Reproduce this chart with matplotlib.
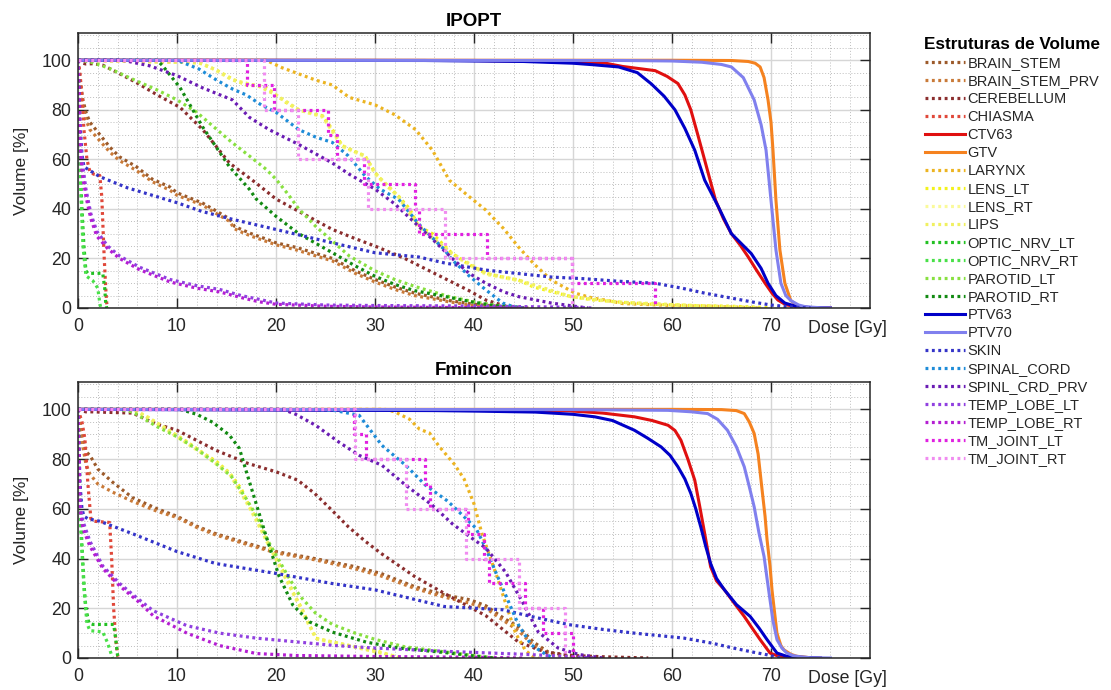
#!/usr/bin/env python3
"""DVH comparison: IPOPT vs Fmincon, one curve per structure."""
import matplotlib
matplotlib.use("Agg")
import matplotlib.pyplot as plt
from matplotlib.lines import Line2D
from matplotlib.ticker import MultipleLocator

plt.rcParams["font.family"] = ["Liberation Sans", "DejaVu Sans"]

NAMES = ["BRAIN_STEM", "BRAIN_STEM_PRV", "CEREBELLUM", "CHIASMA", "CTV63", "GTV",
         "LARYNX", "LENS_LT", "LENS_RT", "LIPS", "OPTIC_NRV_LT", "OPTIC_NRV_RT",
         "PAROTID_LT", "PAROTID_RT", "PTV63", "PTV70", "SKIN", "SPINAL_CORD",
         "SPINL_CRD_PRV", "TEMP_LOBE_LT", "TEMP_LOBE_RT", "TM_JOINT_LT", "TM_JOINT_RT"]
COLORS = ["#9c5a2a", "#c97a38", "#8b2e2e", "#e0483a", "#e01010", "#f5821f",
          "#ecb421", "#f2f21c", "#fafa9a", "#f0f060", "#22c022", "#48e048",
          "#88e040", "#128a12", "#0000c8", "#8080ee", "#3434c8", "#1e8cd8",
          "#6a1cb4", "#9040e0", "#b41ed2", "#e020e0", "#f08cf0"]
SOLID = {"CTV63", "GTV", "PTV63", "PTV70"}
STEPS = {"TM_JOINT_LT", "TM_JOINT_RT"}

# ---------------- IPOPT (dose Gy, volume %) ----------------
ip_brain_stem_d = [0, 0.2, 0.5, 0.8, 1.2, 2.2, 3.2, 4.2, 5.9, 7.5, 9.3, 10, 12.6, 13.6, 15.3, 15.8, 16.6, 17.5, 19.3, 20, 22, 25.7, 28, 30, 32, 34, 37.5, 40, 43, 45.5]
ip_brain_stem_v = [100, 92, 84, 79, 75, 70, 65, 61, 57, 52, 48.8, 46.5, 42.3, 40, 36, 33, 31.5, 30, 27.4, 26.3, 24.5, 20, 15, 11.5, 8.5, 6, 3, 1.5, 0.5, 0]
ip_brain_stem_prv_d = [0, 0.2, 0.5, 0.8, 1.2, 2.2, 3.2, 4.2, 5.9, 7.5, 9.3, 10, 12.6, 13.6, 15.3, 15.8, 16.6, 17.5, 19.3, 20, 22, 25.7, 28, 30, 32, 34, 37.5, 40, 43, 45.5]
ip_brain_stem_prv_v = [100, 90, 81, 76, 72, 67.5, 63, 59.5, 55.5, 51, 47.5, 45.5, 41.5, 39, 35, 32, 30.5, 29, 26.5, 25.5, 23.5, 19, 14, 10.5, 7.5, 5, 2.5, 1, 0.3, 0]
ip_cerebellum_d = [0, 0.3, 0.8, 1.5, 2.5, 4, 5.9, 8, 10.3, 12.6, 15.3, 18, 20, 22.3, 25.7, 28, 30, 33, 35, 37.5, 39.5, 41.2, 43, 45]
ip_cerebellum_v = [100, 99, 98.5, 98.6, 98, 95, 91, 86, 81, 72, 58.5, 50.4, 44, 39, 31.7, 28, 25, 20, 16, 11, 7, 3.2, 1, 0]
ip_chiasma_d = [0, 0.2, 0.4, 0.6, 0.9, 1.2, 1.6, 2.2, 2.4, 2.5, 2.65, 2.8, 2.9, 3.0]
ip_chiasma_v = [100, 95, 85, 72, 60, 55, 54, 53.5, 45, 35, 20, 8, 2, 0]
ip_ctv63_d = [0, 40, 45, 50, 53.3, 55, 58.3, 59.5, 60.6, 61.3, 61.9, 62.6, 63.3, 64.4, 65.2, 66, 66.9, 67.7, 68.5, 69.4, 70.1, 70.7, 71.5, 72.7, 74, 76]
ip_ctv63_v = [100, 99.9, 99.7, 99.3, 98.8, 97.5, 95.8, 93.5, 90.6, 86, 80, 70, 59.7, 43.5, 36, 30, 25.3, 20.6, 15.5, 10, 6, 3.2, 1.3, 0.5, 0.1, 0]
ip_gtv_d = [0, 60, 66, 67.7, 68.4, 68.9, 69.3, 69.7, 70, 70.2, 70.5, 70.9, 71.4, 72, 72.6, 73, 74, 75]
ip_gtv_v = [100, 100, 99.9, 99.5, 98.8, 97.3, 93, 84, 75, 63.7, 43.5, 23.4, 10, 3, 1.2, 0.5, 0.1, 0]
ip_larynx_d = [0, 19, 20.6, 22.3, 24, 25.7, 27.4, 30, 32, 34.1, 35.8, 37.5, 39.5, 41.2, 43, 44.5, 46, 47.8, 50.2, 52, 53.3, 55, 60, 65, 69]
ip_larynx_v = [100, 100, 97, 94.5, 92, 90, 85, 82, 78, 72, 63.7, 51.6, 45, 39.5, 32, 24.6, 18, 11.3, 6, 4, 3.2, 1.8, 1, 0.6, 0]
ip_lens_lt_d = [0, 12.2, 14, 15.6, 17, 18.3, 19, 20, 21, 22.3, 23.5, 24.7, 25.7, 26.7, 28, 29, 30, 31, 32.4, 33.5, 34.4, 35.8, 37.8, 39.5, 41.2, 43, 44.5, 46, 49.8, 52, 54.6, 58, 62, 66, 69, 70]
ip_lens_lt_v = [100, 99, 96, 92.4, 90, 89.7, 89, 86, 83, 80, 78.5, 77.6, 72, 65.5, 63, 61.4, 54.7, 50, 45, 40, 33, 30, 22, 17.5, 14, 12.3, 11.3, 8.5, 4.6, 3.3, 2.4, 1.5, 1, 0.7, 0.3, 0]
ip_lens_rt_d = [0, 12.5, 15.6, 18.3, 20, 22.3, 24.7, 26.7, 29, 30, 32.4, 34.4, 37.8, 41.2, 44.5, 49.8, 54.6, 62, 69]
ip_lens_rt_v = [100, 99, 92, 89.5, 86, 80, 77, 65, 61, 54, 44.5, 32.5, 21.5, 13.5, 11, 4.5, 2.3, 1, 0]
ip_lips_d = [0, 12.3, 14, 15.6, 18.3, 20, 22.3, 24.7, 26.7, 29, 30, 32.4, 34.4, 37.8, 41.2, 44.5, 49.8, 54.6, 62, 69]
ip_lips_v = [100, 99, 96, 92, 89.5, 86, 80, 77.5, 65.5, 61.4, 54.5, 45, 33, 22, 14, 11.3, 4.6, 2.4, 1, 0]
ip_optic_nrv_lt_d = [0, 0.1, 0.2, 0.4, 0.6, 0.8, 1.0, 2.5, 2.7, 2.8, 2.9]
ip_optic_nrv_lt_v = [100, 80, 60, 40, 25, 15, 14, 14, 8, 2, 0]
ip_optic_nrv_rt_d = [0, 0.1, 0.3, 0.5, 0.8, 1.5, 2.0, 2.2, 2.3]
ip_optic_nrv_rt_v = [100, 70, 45, 25, 13, 11, 8, 2, 0]
ip_parotid_lt_d = [0, 1, 1.5, 3, 5.5, 8, 10, 12, 13.6, 15.5, 17.3, 19, 20, 21.2, 22.3, 24, 25.7, 27.4, 30, 32, 34.1, 37.5, 40, 42, 45]
ip_parotid_lt_v = [100, 99.5, 99, 97, 92.4, 88, 84, 79, 73.5, 67, 61.4, 56, 52, 46, 40, 33, 27, 21, 15, 11.5, 8.6, 4.6, 2.5, 1.2, 0]
ip_parotid_rt_d = [0, 8, 8.5, 10.3, 12.6, 15.3, 17.3, 18, 20, 22.3, 25.7, 28, 30, 32, 34, 37, 40, 42, 45]
ip_parotid_rt_v = [100, 100, 98, 89, 73, 57, 48, 44, 37, 30, 22.3, 17, 12.8, 9.5, 7, 4.7, 2.3, 1, 0]
ip_ptv63_d = [0, 35, 45, 50, 52, 54.6, 56.5, 57.9, 59.2, 60.3, 61.3, 62.3, 63.3, 64.7, 66, 67, 68, 69, 69.7, 70.5, 71.4, 72.5, 74, 76]
ip_ptv63_v = [100, 99.9, 99.5, 98.8, 98.2, 97.3, 95, 90.5, 85.5, 80, 72.5, 63.7, 51.6, 40.7, 30, 26, 22, 16, 10, 5, 2, 0.7, 0.2, 0]
ip_ptv70_d = [0, 55, 60, 63, 65, 66, 67.2, 68.3, 69, 69.5, 70, 70.5, 71, 71.5, 72, 72.8, 73.5, 75, 76]
ip_ptv70_v = [100, 99.9, 99.7, 99.2, 98.3, 97.3, 93, 84, 74, 63.7, 43.5, 23.4, 10, 5, 3, 1.2, 0.5, 0.1, 0]
ip_skin_d = [0, 0.1, 0.2, 0.4, 0.6, 1, 2.2, 5, 10, 12.5, 15.6, 20, 25.7, 30, 34.4, 37, 41.2, 47.8, 51.2, 54.6, 58.3, 61, 63.3, 66, 68, 70, 71.7, 73, 74]
ip_skin_v = [100, 90, 75, 62, 57, 56, 53, 48.5, 42.5, 39, 35.8, 31.7, 26.3, 22.3, 20.6, 18.2, 15.3, 12.5, 11.8, 10.8, 10, 8, 6, 4, 2.5, 1.2, 0.5, 0.2, 0]
ip_spinal_cord_d = [0, 10, 12.2, 14, 15.6, 17, 18.5, 20, 22.3, 24, 25.7, 27.3, 29, 30.5, 32.4, 34.4, 35, 37, 37.8, 39.5, 41.2, 42.9, 44, 45]
ip_spinal_cord_v = [100, 100, 96.5, 92, 88.4, 86, 82, 79, 72, 69, 66.8, 61.4, 53.3, 48, 43.8, 34, 31.5, 23.6, 19.4, 13, 7.3, 2, 0.5, 0]
ip_spinl_crd_prv_d = [0, 4.5, 7.2, 10, 12.5, 15.6, 17.3, 19.3, 22.3, 25.7, 27.4, 30, 32, 34.4, 36, 37.8, 39.5, 41.2, 43, 44.5, 47.8, 50, 51.5]
ip_spinl_crd_prv_v = [100, 100, 97.8, 93.8, 89, 84, 77, 72, 66, 58.5, 54, 48, 42, 33, 27, 20, 14, 10, 6.5, 4.6, 2, 0.8, 0]
ip_temp_lobe_lt_d = [0, 0.1, 0.2, 0.4, 0.8, 1.3, 1.9, 3, 4.2, 6.2, 9.3, 12, 14.3, 16.5, 18.3, 20, 25, 30, 40, 50, 52]
ip_temp_lobe_lt_v = [100, 85, 70, 60, 48, 38, 31, 25, 21, 16.5, 11.5, 9, 7.5, 5, 3.5, 2, 1.2, 1, 0.8, 0.3, 0]
ip_temp_lobe_rt_d = [0, 0.1, 0.2, 0.4, 0.8, 1.3, 1.9, 3, 4.2, 6.2, 9.3, 12, 14.3, 16.5, 18.3, 20, 25, 30, 45]
ip_temp_lobe_rt_v = [100, 80, 65, 55, 45, 36, 29, 24, 20, 15.5, 10.5, 8, 6.5, 4.2, 2.5, 1.5, 0.7, 0.4, 0]
ip_tm_joint_lt_d = [0, 17.1, 19.8, 25.3, 26.2, 28.9, 34.0, 34.4, 41.3, 49.9, 58.3]
ip_tm_joint_lt_v = [100, 90, 80, 70, 60, 50, 40, 30, 20, 10, 0]
ip_tm_joint_rt_d = [0, 18.8, 22.2, 29.3, 37.1, 49.9]
ip_tm_joint_rt_v = [100, 80, 60, 40, 20, 0]

# ---------------- Fmincon (dose Gy, volume %) ----------------
fm_brain_stem_d = [0, 0.2, 0.4, 0.8, 1.2, 2, 3.5, 5.5, 8, 10, 12, 13.9, 17.2, 20, 23.9, 27.9, 30.6, 34, 37, 39.6, 41.2, 43, 44.5, 46, 47.5, 50, 52]
fm_brain_stem_v = [100, 95, 90, 83, 81.5, 76, 70.7, 64.5, 60, 57, 53, 50, 46, 42.8, 40, 36.8, 34, 28.7, 25.4, 23.4, 21, 16, 12.5, 6.4, 2.4, 0.3, 0]
fm_brain_stem_prv_d = [0, 0.2, 0.4, 0.8, 1.2, 2, 3.5, 5.5, 8, 10, 12, 13.9, 17.2, 20, 23.9, 27.9, 30.6, 34, 37, 39.6, 41.2, 43, 44.5, 46, 47.5, 50, 52]
fm_brain_stem_prv_v = [100, 93, 87, 78, 74, 70, 66.7, 63, 59, 56.5, 52.5, 49.5, 45.5, 42.3, 39.5, 36, 33, 28, 24.5, 22, 20, 15, 11, 5, 1.8, 0.2, 0]
fm_cerebellum_d = [0, 0.3, 0.8, 1.5, 3, 5.5, 8, 10, 12, 13.9, 17.2, 20, 22.2, 23.9, 25.5, 27.3, 29, 30.6, 34, 37, 41.2, 44.5, 47.2, 50, 53, 57.6]
fm_cerebellum_v = [100, 99.5, 99, 99, 98.8, 98.5, 94, 91.6, 87.5, 83.6, 78.2, 74.9, 71.5, 66.2, 60, 52.8, 47, 42.1, 32.8, 26, 17, 6.4, 2.4, 1, 0.5, 0]
fm_chiasma_d = [0, 0.4, 0.7, 1.0, 1.3, 1.6, 3.2, 3.4, 3.6, 3.8, 4.0, 4.1]
fm_chiasma_v = [100, 95, 88, 70, 56, 55, 54.5, 40, 20, 8, 1, 0]
fm_ctv63_d = [0, 36, 40, 45, 49.6, 53, 56.2, 58, 59.6, 60.3, 60.9, 61.6, 62.3, 62.8, 63.3, 63.9, 64.5, 65.3, 66.3, 67.3, 68.1, 68.9, 69.9, 70.7, 71.6, 73, 74]
fm_ctv63_v = [100, 99.8, 99.7, 99.6, 99.4, 98.5, 97, 95.5, 93.6, 91.5, 87.6, 80, 71.5, 61, 50.1, 36.7, 31, 27.4, 22, 16.7, 12, 7.4, 2, 0.8, 0.4, 0.1, 0]
fm_gtv_d = [0, 60, 65, 66.5, 67.3, 67.8, 68.3, 68.7, 69.1, 69.4, 69.6, 69.9, 70.1, 70.4, 70.6, 71, 71.3, 72, 72.6, 74, 75]
fm_gtv_v = [100, 100, 99.9, 99.5, 98.3, 95, 90.3, 82, 67.6, 57, 47.6, 37, 27.4, 17, 10, 5, 3.3, 1.5, 0.7, 0.1, 0]
fm_larynx_d = [0, 31, 32, 33.5, 34.5, 35.5, 36.5, 38, 39, 40, 40.8, 41.5, 42.3, 43.2, 44.2, 45.2, 46, 46.5]
fm_larynx_v = [100, 100, 99, 96, 92, 90.5, 85, 78, 72, 62, 50, 42, 33, 22, 10, 3, 0.5, 0]
fm_lens_lt_d = [0, 5.5, 7, 9, 11, 12.6, 14, 15.3, 16.5, 17.3, 18, 18.6, 19.3, 20, 21, 21.7, 22.6, 23.4, 24, 25, 27.4, 30, 31.7, 32.5]
fm_lens_lt_v = [100, 100, 97, 92, 87, 82.5, 79, 74.5, 68, 61, 56, 51, 45, 40, 33, 26.5, 20, 13, 8, 7, 5, 3, 1, 0]
fm_lens_rt_d = [0, 5.8, 9, 12.6, 15.3, 17.3, 18.6, 20, 21.7, 23.4, 24.2, 27.4, 31.7, 32.5]
fm_lens_rt_v = [100, 100, 91.5, 82, 74, 60.5, 50.5, 39.5, 26, 12.5, 7.5, 4.8, 1, 0]
fm_lips_d = [0, 5.6, 9, 12.6, 15.3, 17.3, 18.6, 20, 21.7, 23.4, 24.1, 27.4, 31.7, 32.5]
fm_lips_v = [100, 100, 92, 82.5, 74.5, 61, 51, 40, 26.5, 13, 7.8, 5, 1, 0]
fm_optic_nrv_lt_d = [0, 0.1, 0.2, 0.4, 0.6, 0.8, 1.1, 1.5, 3.6, 3.8, 4.0, 4.1]
fm_optic_nrv_lt_v = [100, 85, 65, 45, 30, 20, 14, 13.5, 13.5, 8, 1, 0]
fm_optic_nrv_rt_d = [0, 0.1, 0.3, 0.6, 0.9, 1.2, 2.5, 3.0, 3.4, 3.5]
fm_optic_nrv_rt_v = [100, 75, 50, 28, 14, 11, 10.5, 6, 1, 0]
fm_parotid_lt_d = [0, 4, 5.5, 8, 10, 12, 14, 15.5, 17, 18.2, 19.2, 20.2, 21.2, 22.4, 24, 25.7, 28, 30, 33, 37, 40, 42]
fm_parotid_lt_v = [100, 100, 99, 93, 89, 84, 78, 73, 64, 56, 47, 40, 33, 25, 18, 13.5, 10, 7.5, 4.5, 2.5, 1, 0]
fm_parotid_rt_d = [0, 10.3, 12, 13.6, 15.3, 16.3, 17, 18, 19, 20.3, 21.7, 23.4, 25.7, 29.1, 32.4, 37.5, 40, 42]
fm_parotid_rt_v = [100, 100, 98, 94.8, 89.6, 84.3, 75, 62, 49, 33, 21.3, 14.5, 10.4, 6.4, 4, 2, 0.8, 0]
fm_ptv63_d = [0, 36, 40, 46.2, 50, 52.2, 54, 56.2, 57.5, 58.9, 59.8, 60.6, 61.3, 61.9, 62.4, 62.9, 63.4, 63.9, 64.5, 65.3, 66.5, 67.9, 68.8, 69.6, 70.6, 71.5, 72.3, 75]
fm_ptv63_v = [100, 99.5, 99.3, 98.9, 98, 97, 95.5, 91.6, 88.5, 84.9, 81.5, 76.9, 72, 66.2, 60, 52.8, 45, 38, 32, 27.4, 21.5, 16.7, 12, 7.4, 2, 0.8, 0.4, 0]
fm_ptv70_d = [0, 50, 59.6, 62, 63.6, 64.6, 65.6, 66.5, 67.3, 67.8, 68.3, 68.8, 69.3, 69.6, 69.9, 70.2, 70.6, 71.1, 71.6, 72.2, 72.9, 74, 76]
fm_ptv70_v = [100, 99.9, 99.6, 99, 98.3, 96, 91.6, 85, 76.9, 69, 60.8, 50, 40.8, 32, 23.4, 15, 7.4, 4, 2, 1, 0.5, 0.1, 0]
fm_skin_d = [0, 0.1, 0.2, 0.4, 0.6, 1, 2.2, 5.5, 10, 13.9, 20, 25.6, 30, 37, 42.9, 46, 49.6, 53, 56.2, 61.2, 64, 66.2, 68, 69.6, 71]
fm_skin_v = [100, 85, 70, 60, 57, 56, 55, 50, 42.8, 38, 34, 30, 27.4, 20.7, 19.4, 16.5, 13.4, 11.5, 10, 8, 6, 4, 2.5, 1.3, 0]
fm_spinal_cord_d = [0, 24, 26, 28.4, 30.7, 33.1, 35.1, 37.2, 37.8, 40.2, 41.2, 42.2, 43.5, 44.5, 45.8, 47.2, 48]
fm_spinal_cord_v = [100, 100, 99.5, 97.6, 85.5, 77.5, 69.5, 63.5, 61.4, 52.2, 44, 34.5, 22.5, 13.3, 5.2, 1.6, 0]
fm_spinl_crd_prv_d = [0, 20.7, 22, 24, 26.4, 28.4, 30.7, 33.1, 35.8, 37.8, 39.5, 41.2, 43.2, 44.9, 46.5, 48.5, 50.6, 53]
fm_spinl_crd_prv_v = [100, 100, 98, 93.6, 86.7, 81.5, 77.5, 69.5, 61.4, 54, 49, 44.2, 34.5, 22.5, 10.4, 4, 1.4, 0]
fm_temp_lobe_lt_d = [0, 0.1, 0.2, 0.5, 1.2, 2.5, 4.2, 6, 7.6, 11, 14.3, 18, 22, 26, 30, 37, 45, 50, 52]
fm_temp_lobe_lt_v = [100, 80, 62, 55, 47, 37, 30, 24, 19, 13, 10, 8, 6.5, 5, 4, 2.7, 1.5, 0.5, 0]
fm_temp_lobe_rt_d = [0, 0.1, 0.2, 0.5, 1.2, 2.5, 4.2, 6, 7.6, 11, 14.3, 18, 22, 30, 40, 45]
fm_temp_lobe_rt_v = [100, 80, 60, 52, 45, 36, 29, 23, 17, 10, 5, 1.8, 1, 0.6, 0.3, 0]
fm_tm_joint_lt_d = [0, 27.9, 29.1, 35.1, 35.6, 39.4, 41.0, 41.5, 45.2, 47.0, 50.0]
fm_tm_joint_lt_v = [100, 90, 80, 70, 60, 50, 40, 30, 20, 10, 0]
fm_tm_joint_rt_d = [0, 28.0, 33.1, 39.2, 44.5, 49.2]
fm_tm_joint_rt_v = [100, 80, 60, 40, 20, 0]

XTICKS = [0, 10, 20, 30, 40, 50, 60, 70]
YTICKS = [0, 20, 40, 60, 80, 100]


def draw_panel(ax, curves, title):
    for name, color in zip(NAMES, COLORS):
        dose, vol = curves[name]
        kw = dict(color=color, label=name)
        if name in SOLID:
            kw.update(lw=2.2, ls="-")
        else:
            kw.update(lw=2.3, ls=(0, (0.9, 1.1)), dash_capstyle="butt")
        if name in STEPS:
            kw["drawstyle"] = "steps-post"
        ax.plot(dose, vol, **kw)
    ax.set_xlim(0, 80)
    ax.set_ylim(0, 111)
    ax.set_xticks(XTICKS)
    ax.set_yticks(YTICKS)
    ax.xaxis.set_minor_locator(MultipleLocator(2))
    ax.yaxis.set_minor_locator(MultipleLocator(5))
    ax.grid(which="major", color="#d6d6d6", lw=1.0, ls="-")
    ax.grid(which="minor", color="#bdbdbd", lw=0.7, ls=(0, (1, 2)))
    ax.set_axisbelow(True)
    ax.tick_params(which="major", direction="in", length=7, width=1.0,
                   top=True, right=True, labelsize=12.8, colors="#262626")
    ax.tick_params(axis="x", which="major", pad=7)
    ax.tick_params(axis="y", which="major", pad=5)
    ax.tick_params(which="minor", length=0)
    for s in ax.spines.values():
        s.set_color("#262626")
        s.set_linewidth(1.1)
    ax.set_ylabel("Volume [%]", fontsize=12.5, color="#262626", labelpad=9)
    ax.set_title(title, fontsize=13.5, fontweight="bold", pad=5)
    ax.text(0.972, -0.045, "Dose [Gy]", transform=ax.transAxes, ha="center",
            va="top", fontsize=12.8, color="#262626")


def main():
    ipopt = {
        "BRAIN_STEM": (ip_brain_stem_d, ip_brain_stem_v),
        "BRAIN_STEM_PRV": (ip_brain_stem_prv_d, ip_brain_stem_prv_v),
        "CEREBELLUM": (ip_cerebellum_d, ip_cerebellum_v),
        "CHIASMA": (ip_chiasma_d, ip_chiasma_v),
        "CTV63": (ip_ctv63_d, ip_ctv63_v),
        "GTV": (ip_gtv_d, ip_gtv_v),
        "LARYNX": (ip_larynx_d, ip_larynx_v),
        "LENS_LT": (ip_lens_lt_d, ip_lens_lt_v),
        "LENS_RT": (ip_lens_rt_d, ip_lens_rt_v),
        "LIPS": (ip_lips_d, ip_lips_v),
        "OPTIC_NRV_LT": (ip_optic_nrv_lt_d, ip_optic_nrv_lt_v),
        "OPTIC_NRV_RT": (ip_optic_nrv_rt_d, ip_optic_nrv_rt_v),
        "PAROTID_LT": (ip_parotid_lt_d, ip_parotid_lt_v),
        "PAROTID_RT": (ip_parotid_rt_d, ip_parotid_rt_v),
        "PTV63": (ip_ptv63_d, ip_ptv63_v),
        "PTV70": (ip_ptv70_d, ip_ptv70_v),
        "SKIN": (ip_skin_d, ip_skin_v),
        "SPINAL_CORD": (ip_spinal_cord_d, ip_spinal_cord_v),
        "SPINL_CRD_PRV": (ip_spinl_crd_prv_d, ip_spinl_crd_prv_v),
        "TEMP_LOBE_LT": (ip_temp_lobe_lt_d, ip_temp_lobe_lt_v),
        "TEMP_LOBE_RT": (ip_temp_lobe_rt_d, ip_temp_lobe_rt_v),
        "TM_JOINT_LT": (ip_tm_joint_lt_d, ip_tm_joint_lt_v),
        "TM_JOINT_RT": (ip_tm_joint_rt_d, ip_tm_joint_rt_v),
    }
    fmincon = {
        "BRAIN_STEM": (fm_brain_stem_d, fm_brain_stem_v),
        "BRAIN_STEM_PRV": (fm_brain_stem_prv_d, fm_brain_stem_prv_v),
        "CEREBELLUM": (fm_cerebellum_d, fm_cerebellum_v),
        "CHIASMA": (fm_chiasma_d, fm_chiasma_v),
        "CTV63": (fm_ctv63_d, fm_ctv63_v),
        "GTV": (fm_gtv_d, fm_gtv_v),
        "LARYNX": (fm_larynx_d, fm_larynx_v),
        "LENS_LT": (fm_lens_lt_d, fm_lens_lt_v),
        "LENS_RT": (fm_lens_rt_d, fm_lens_rt_v),
        "LIPS": (fm_lips_d, fm_lips_v),
        "OPTIC_NRV_LT": (fm_optic_nrv_lt_d, fm_optic_nrv_lt_v),
        "OPTIC_NRV_RT": (fm_optic_nrv_rt_d, fm_optic_nrv_rt_v),
        "PAROTID_LT": (fm_parotid_lt_d, fm_parotid_lt_v),
        "PAROTID_RT": (fm_parotid_rt_d, fm_parotid_rt_v),
        "PTV63": (fm_ptv63_d, fm_ptv63_v),
        "PTV70": (fm_ptv70_d, fm_ptv70_v),
        "SKIN": (fm_skin_d, fm_skin_v),
        "SPINAL_CORD": (fm_spinal_cord_d, fm_spinal_cord_v),
        "SPINL_CRD_PRV": (fm_spinl_crd_prv_d, fm_spinl_crd_prv_v),
        "TEMP_LOBE_LT": (fm_temp_lobe_lt_d, fm_temp_lobe_lt_v),
        "TEMP_LOBE_RT": (fm_temp_lobe_rt_d, fm_temp_lobe_rt_v),
        "TM_JOINT_LT": (fm_tm_joint_lt_d, fm_tm_joint_lt_v),
        "TM_JOINT_RT": (fm_tm_joint_rt_d, fm_tm_joint_rt_v),
    }

    W, H = 1111, 690
    fig = plt.figure(figsize=(W / 100, H / 100), dpi=100)
    ax1 = fig.add_axes([78 / W, 1 - 308 / H, 792 / W, 275 / H])
    ax2 = fig.add_axes([78 / W, 1 - 658 / H, 792 / W, 276 / H])
    draw_panel(ax1, ipopt, "IPOPT")
    draw_panel(ax2, fmincon, "Fmincon")

    handles = []
    for name, color in zip(NAMES, COLORS):
        if name in SOLID:
            handles.append(Line2D([], [], color=color, lw=2.2, ls="-"))
        else:
            handles.append(Line2D([], [], color=color, lw=2.3, ls=(0, (0.9, 1.1))))
    fig.legend(handles, NAMES, loc="upper left", bbox_to_anchor=(924 / W, 1 - 37 / H),
               frameon=False, fontsize=10.5, title="Estruturas de Volume",
               title_fontproperties={"weight": "bold", "size": 12.3},
               handlelength=2.75, handletextpad=0.2, labelspacing=0.275,
               borderaxespad=0, borderpad=0, labelcolor="#262626")

    fig.savefig("out.png", dpi=100)


if __name__ == "__main__":
    main()
